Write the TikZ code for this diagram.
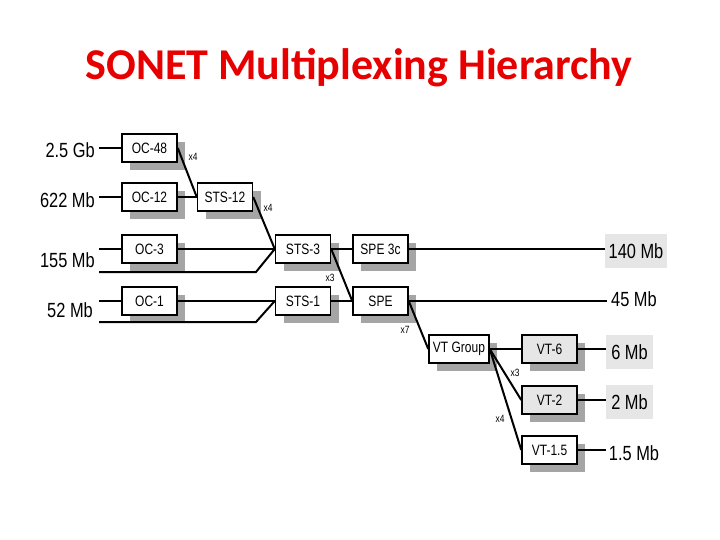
\documentclass[tikz,border=0pt]{standalone}
\usepackage{fontspec}
\usetikzlibrary{shadows}
\newfontfamily\diagfont[FakeStretch=0.8]{Liberation Sans}
\newfontfamily\titlefont{Carlito}
\definecolor{titlered}{RGB}{230,0,0}
\definecolor{shadowgray}{RGB}{165,165,165}
\definecolor{ratebg}{RGB}{230,230,230}

\begin{document}
\begin{tikzpicture}[x=1pt,y=-1pt,
  mux/.style={draw, line width=1.5pt, fill=white, minimum width=55pt, minimum height=28pt, inner sep=0pt,
    font=\diagfont\fontsize{15}{15}\selectfont,
    drop shadow={shadow xshift=8pt, shadow yshift=-8pt, fill=shadowgray, opacity=1}},
  rate/.style={font=\diagfont\fontsize{20.5}{20.5}\selectfont, inner sep=0pt},
  ratebox/.style={rate, fill=ratebg, minimum height=34pt},
  mult/.style={font=\diagfont\fontsize{10.5}{10.5}\selectfont, inner sep=0pt},
  wire/.style={line width=2pt}]

\useasboundingbox (0,0) rectangle (720,540);

\node[anchor=base, text=titlered, font=\titlefont\bfseries\fontsize{44}{44}\selectfont] (title) at (359,80) {SONET Multiplexing Hierarchy};

% boxes
\node[mux] (oc48) at (149.5,148) {OC-48};
\node[mux] (oc12) at (149.5,197) {OC-12};
\node[mux] (oc3) at (149.5,249) {OC-3};
\node[mux] (oc1) at (149.5,301) {OC-1};
\node[mux] (sts12) at (225,197) {STS-12};
\node[mux] (sts3) at (303,249) {STS-3};
\node[mux] (sts1) at (303,301) {STS-1};
\node[mux] (spe3c) at (380.5,249) {SPE 3c};
\node[mux] (spe) at (380.5,301) {SPE};
\node[mux, minimum width=60pt] (vtg) at (459,349) {VT Group};
\node[mux, fill=ratebg] (vt6) at (549.5,349) {VT-6};
\node[mux, fill=ratebg] (vt2) at (549.5,400) {VT-2};
\node[mux] (vt15) at (549.5,450) {VT-1.5};

% rates in
\node[rate, anchor=east] (r25) at (95,150) {2.5 Gb};
\node[rate, anchor=east] (r622) at (95,200) {622 Mb};
\node[rate, anchor=east] (r155) at (95,260) {155 Mb};
\node[rate, anchor=east] (r52) at (93,310) {52 Mb};

% rates out
\node[ratebox, minimum width=62pt] (r140) at (636,251) {140 Mb};
\node[rate] (r45) at (634,299) {45 Mb};
\node[ratebox, minimum width=47pt] (r6) at (629.5,352) {6 Mb};
\node[ratebox, minimum width=47pt] (r2) at (629.5,402) {2 Mb};
\node[rate] (r15) at (634,453) {1.5 Mb};

% multipliers
\node[mult] (m48) at (193,157) {x4};
\node[mult] (m12) at (268,208) {x4};
\node[mult] (m3) at (330,278) {x3};
\node[mult] (m7) at (405,330) {x7};
\node[mult] (mvt2) at (515,373) {x3};
\node[mult] (mvt15) at (500,419) {x4};

\coordinate (in25) at (99,148);
\coordinate (in622) at (99,197);
\coordinate (in155) at (99,249);
\coordinate (in155b) at (99,272);
\coordinate (k155) at (256,272);
\coordinate (in52) at (99,301);
\coordinate (in52b) at (99,322);
\coordinate (k52) at (256,322);

\draw[wire] (in25) -- (in25 -| oc48.west);
\draw[wire] (in622) -- (in622 -| oc12.west);
\draw[wire] (in155) -- (in155 -| oc3.west);
\draw[wire] (in52) -- (in52 -| oc1.west);
\draw[wire] (in155b) -- (k155) -- (sts3.west);
\draw[wire] (in52b) -- (k52) -- (sts1.west);

\draw[wire] (oc48.east) -- (sts12.west);
\draw[wire] (oc12.east) -- (sts12.west);
\draw[wire] (sts12.east) -- (sts3.west);
\draw[wire] (oc3.east) -- (sts3.west);
\draw[wire] (oc1.east) -- (sts1.west);
\draw[wire] (sts3.east) -- (spe3c.west);
\draw[wire] (sts3.east) -- (spe.west);
\draw[wire] (sts1.east) -- (spe.west);
\draw[wire] (spe3c.east) -- (spe3c.east -| r140.west);
\draw[wire] (spe.east) -- ([xshift=-4pt]spe.east -| r45.west);
\draw[wire] (spe.east) -- (vtg.west);
\draw[wire] (vtg.east) -- (vt6.west);
\draw[wire] (vtg.east) -- (vt2.west);
\draw[wire] (vtg.east) -- (vt15.west);
\draw[wire] (vt6.east) -- (vt6.east -| r6.west);
\draw[wire] (vt2.east) -- (vt2.east -| r2.west);
\draw[wire] (vt15.east) -- ([xshift=-3pt]vt15.east -| r15.west);
\end{tikzpicture}
\end{document}
